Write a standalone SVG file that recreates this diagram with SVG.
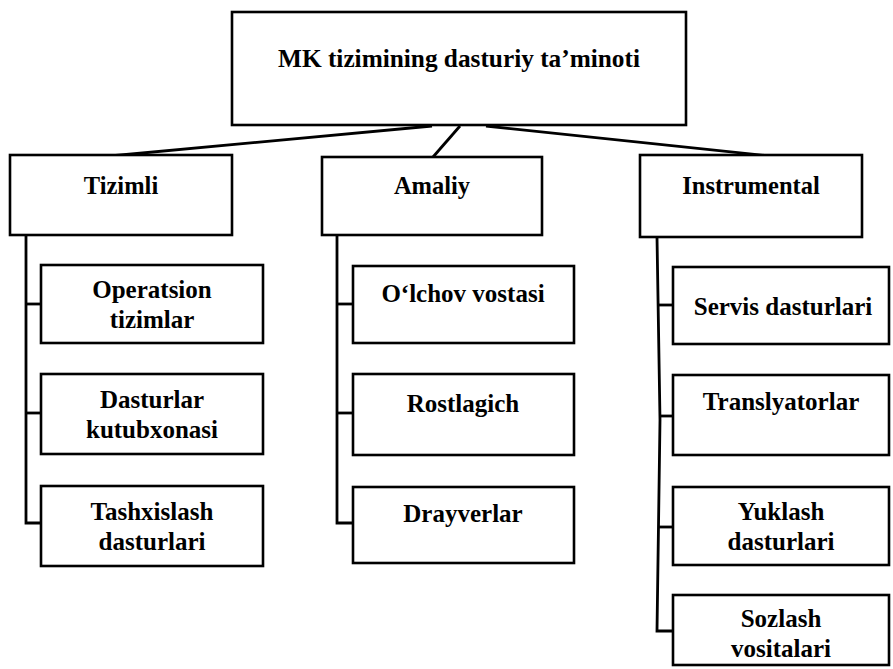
<svg xmlns="http://www.w3.org/2000/svg" width="893" height="669" viewBox="0 0 893 669">
  <style>
    .box { fill: #ffffff; stroke: #000000; stroke-width: 2.6; }
    .wire { fill: none; stroke: #000000; stroke-width: 2.8; stroke-linejoin: miter; }
    .title { font-size: 25.3px; }
    .head { font-size: 24.5px; }
    .lbl { font-size: 25px; }
  </style>
  <rect width="893" height="669" fill="#ffffff"/>

  <!-- connectors -->
  <g id="connectors">
    <line class="wire" x1="432" y1="126" x2="110" y2="156"/>
    <line class="wire" x1="460" y1="126" x2="433" y2="157"/>
    <line class="wire" x1="486" y1="126" x2="770" y2="156"/>
    <!-- Tizimli branch -->
    <polyline class="wire" points="26,235 26,523 41,523"/>
    <line class="wire" x1="26" y1="304" x2="41" y2="304"/>
    <line class="wire" x1="26" y1="413" x2="41" y2="413"/>
    <!-- Amaliy branch -->
    <polyline class="wire" points="337,235 337,523 353,523"/>
    <line class="wire" x1="337" y1="304" x2="353" y2="304"/>
    <line class="wire" x1="337" y1="413" x2="353" y2="413"/>
    <!-- Instrumental branch -->
    <polyline class="wire" points="657,237 660,420 657,631 673,631"/>
    <line class="wire" x1="657" y1="305" x2="673" y2="305"/>
    <line class="wire" x1="659" y1="416" x2="673" y2="416"/>
    <line class="wire" x1="659" y1="527" x2="673" y2="527"/>
  </g>

  <g font-family="Liberation Serif, serif" font-weight="bold" fill="#000000" text-anchor="middle">
  <g id="root">
    <rect class="box" x="232" y="12" width="454" height="113"/>
    <text class="title" x="459" y="67">MK tizimining dasturiy ta’minoti</text>
  </g>

  <g id="tizimli">
    <rect class="box" x="10" y="155" width="222" height="80"/>
    <text class="head" x="121" y="194">Tizimli</text>
  </g>
  <g id="amaliy">
    <rect class="box" x="322" y="157" width="220" height="78"/>
    <text class="head" x="432" y="194">Amaliy</text>
  </g>
  <g id="instrumental">
    <rect class="box" x="640" y="155" width="222" height="82"/>
    <text class="head" x="751" y="194">Instrumental</text>
  </g>

  <g id="operatsion">
    <rect class="box" x="41" y="265" width="222" height="78"/>
    <text class="lbl" x="152" y="298">Operatsion</text>
    <text class="lbl" x="152" y="328">tizimlar</text>
  </g>
  <g id="kutubxona">
    <rect class="box" x="41" y="374" width="222" height="80"/>
    <text class="lbl" x="152" y="408">Dasturlar</text>
    <text class="lbl" x="152" y="438">kutubxonasi</text>
  </g>
  <g id="tashxis">
    <rect class="box" x="41" y="486" width="222" height="80"/>
    <text class="lbl" x="152" y="520">Tashxislash</text>
    <text class="lbl" x="152" y="550">dasturlari</text>
  </g>

  <g id="olchov">
    <rect class="box" x="353" y="266" width="221" height="77"/>
    <text class="lbl" x="463" y="302">O‘lchov vostasi</text>
  </g>
  <g id="rostlagich">
    <rect class="box" x="353" y="374" width="221" height="81"/>
    <text class="lbl" x="463" y="412">Rostlagich</text>
  </g>
  <g id="drayverlar">
    <rect class="box" x="353" y="487" width="221" height="76"/>
    <text class="lbl" x="463" y="522">Drayverlar</text>
  </g>

  <g id="servis">
    <rect class="box" x="673" y="267" width="216" height="77"/>
    <text class="lbl" x="783" y="315">Servis dasturlari</text>
  </g>
  <g id="translyator">
    <rect class="box" x="673" y="375" width="216" height="80"/>
    <text class="lbl" x="781" y="410">Translyatorlar</text>
  </g>
  <g id="yuklash">
    <rect class="box" x="673" y="487" width="216" height="78"/>
    <text class="lbl" x="781" y="520">Yuklash</text>
    <text class="lbl" x="781" y="550">dasturlari</text>
  </g>
  <g id="sozlash">
    <rect class="box" x="673" y="595" width="216" height="70"/>
    <text class="lbl" x="781" y="627">Sozlash</text>
    <text class="lbl" x="781" y="657">vositalari</text>
  </g>
  </g>
</svg>
